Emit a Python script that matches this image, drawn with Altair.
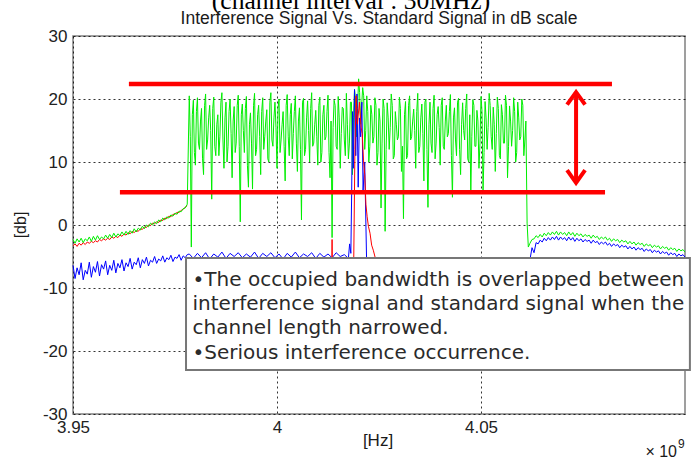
import altair as alt
import numpy as np
import pandas as pd

# ---------------- data (x in GHz, y in dB) ----------------
# left part, 3.9500 .. 3.9780 GHz, step 0.5 MHz
green_left = [-2.3, -2.9, -2.2, -2.7, -2.1, -2.8, -2.2, -2.5, -1.9, -2.6,
              -1.8, -2.4, -1.7, -2.3, -1.9, -2.2, -1.6, -2.1, -1.5, -2.0,
              -1.3, -1.9, -1.4, -1.7, -1.1, -1.6, -1.0, -1.5, -0.9, -1.3,
              -0.6, -1.1, -0.5, -0.8, -0.2, -0.6, 0.0, -0.3, 0.3, 0.0,
              0.5, 0.2, 0.8, 0.5, 1.1, 0.8, 1.3, 1.1, 1.6, 1.4,
              1.9, 1.7, 2.2, 2.1, 2.6, 2.7, 3.3]
red_left = [-3.3, -3.0, -3.4, -2.9, -3.2, -2.8, -3.1, -2.7, -2.9, -2.6,
            -2.8, -2.5, -2.7, -2.3, -2.5, -2.2, -2.4, -2.1, -2.3, -1.9,
            -2.1, -1.8, -2.0, -1.6, -1.8, -1.4, -1.6, -1.2, -1.4, -1.0,
            -1.2, -0.9, -1.0, -0.6, -0.7, -0.3, -0.4, 0.0, -0.1, 0.3,
            0.2, 0.5, 0.4, 0.8, 0.7, 1.1, 1.0, 1.4, 1.3, 1.7,
            1.7, 2.0, 2.0, 2.3, 2.5, 2.8, 3.1]
blue_left = [-6.4, -8.5, -6.8, -7.9, -6.0, -8.7, -7.2, -7.8, -5.9, -8.3,
             -6.6, -7.5, -5.8, -8.1, -6.3, -7.0, -5.7, -7.9, -6.4, -7.2,
             -5.6, -7.6, -6.1, -6.8, -5.5, -7.3, -6.0, -6.6, -5.3, -7.0,
             -5.9, -6.3, -5.2, -6.8, -5.5, -6.1, -5.1, -6.5, -5.6, -5.9,
             -5.0, -6.1, -5.4, -5.7, -4.9, -5.9, -5.2, -5.5, -4.8, -5.8,
             -5.1, -5.3, -4.7, -5.6, -4.9, -5.2, -4.7]

# occupied band of the standard signal, 3.9785 .. 4.0610 GHz, step 0.5 MHz
green_band = [20.5, -3.5, 19.8, 9.5, 20.2, 12.0, 18.5, 8.0, 20.8, 13.5,
              19.0, 4.1, 20.3, 11.0, 17.5, 14.0, 21.0, 9.0, 19.5, 12.5,
              20.0, 7.5, 18.8, 13.0, 20.6, 0.5, 19.2, 11.5, 20.4, 6.0,
              17.8, 5.7, 20.9, 12.0, 19.0, 8.0, 20.2, 14.0, 18.3, 10.0,
              21.0, 12.5, 19.5, 9.0, 20.0, 13.5, 18.0, 7.0, 20.7, 11.0,
              19.3, 14.5, 20.5, 8.5, 18.6, 0.8, 20.1, 12.0, 19.7, 10.0,
              21.0, 13.0, 18.2, 9.5, 20.3, 11.5, 19.0, 14.0, 20.6, 7.5,
              -2.0, 19.8, 12.5, 20.4, 9.0, 18.7, 13.5, 20.9, 10.5, 19.5,
              8.0, 21.5, 14.0, 23.2, 16.0, 21.8, 12.0, 20.5, 10.0, 19.0,
              13.0, 20.2, 9.5, 18.5, 2.7, 20.0, -1.0, 19.4, 12.0, 20.8,
              10.5, 18.0, 13.5, 20.3, 8.5, 1.0, 19.6, 11.0, 20.5, 14.0,
              18.4, 9.0, 20.9, 12.5, 19.2, 7.0, 20.0, 2.8, 19.5, 11.5,
              20.6, 13.0, 18.8, 9.5, 20.2, 12.0, 19.0, 14.5, 20.7, 4.4,
              18.6, 11.0, 20.1, 8.0, 19.4, 13.5, 20.8, 10.0, 5.0, 19.9,
              12.5, 18.2, 9.0, 20.4, 5.3, 19.6, 12.0, 20.9, 14.0, 18.7,
              8.5, 20.3, 11.0, 19.1, 13.0, 20.6, 7.5, 18.9, 12.5, 20.2,
              10.0, 19.5, 13.5, 20.0, 11.0, 16.5]
# in-between samples of the band, 3.97875 .. 4.06075 GHz, step 0.5 MHz
green_band_b = [14.0, 17.5, 11.5, 18.0, 13.0, 16.5, 10.5, 19.0, 12.0, 17.0,
                15.0, 18.5, 12.5, 16.0, 11.0, 19.5, 13.5, 17.0, 10.0, 18.0,
                14.5, 16.5, 11.5, 19.0, 12.5, 17.5, 15.0, 18.5, 9.5, 16.0,
                13.0, 19.0, 11.0, 17.5, 14.0, 18.0, 12.0, 16.5, 10.5, 19.5,
                13.5, 17.0, 15.5, 18.5, 11.5, 16.0, 12.5, 19.0, 14.0, 17.5,
                10.5, 18.0, 13.0, 16.5, 12.0, 19.5, 11.0, 17.0, 15.0, 18.5,
                12.5, 16.0, 14.0, 19.0, 10.0, 17.5, 13.5, 18.0, 11.5, 16.5,
                15.5, 19.0, 12.0, 17.0, 14.5, 18.5, 11.0, 16.0, 13.0, 19.5,
                17.0, 20.0, 18.5, 21.0, 19.0, 20.5, 15.0, 18.0, 12.5, 17.5,
                14.0, 19.0, 11.5, 16.5, 13.0, 18.5, 12.0, 17.0, 15.5, 19.0,
                11.0, 16.0, 14.0, 18.5, 12.5, 17.5, 10.5, 19.0, 13.5, 16.5,
                15.0, 18.0, 11.5, 17.0, 14.5, 19.5, 12.0, 16.0, 13.0, 18.5,
                10.5, 17.5, 15.5, 19.0, 12.5, 16.5, 14.0, 18.0, 11.0, 17.0,
                13.5, 19.5, 12.0, 16.0, 15.0, 18.5, 10.5, 17.5, 14.0, 19.0,
                12.5, 16.5, 13.0, 18.0, 11.5, 17.0, 15.5, 19.0, 12.0, 16.0,
                14.5, 18.5, 10.5, 17.5, 13.0, 19.0, 12.5, 16.5, 15.0, 18.0,
                11.5, 17.0, 14.0, 19.0, 13.5]
green_drop_f = [4.0613, 4.0616]
green_drop = [0.3, -3.5]

# 3.9785 .. 4.0175 GHz, step 1 MHz
blue_mid = [-4.6, -5.3, -4.5, -5.2, -4.4, -5.4, -4.6, -5.1, -4.3, -5.3,
            -4.5, -5.0, -4.4, -5.2, -4.6, -5.1, -4.3, -5.3, -4.5, -5.0,
            -4.4, -5.2, -4.6, -5.4, -4.5, -5.1, -4.3, -5.2, -4.6, -5.0,
            -4.4, -5.3, -4.5, -5.1, -4.6, -5.2, -4.4, -5.0, -4.7, -5.3]

# interference spike
blue_spike_f = [4.0175, 4.0178, 4.0181, 4.0183, 4.0185, 4.0187, 4.0190, 4.0193,
                4.0196, 4.0199, 4.0202, 4.0205, 4.0208, 4.0211, 4.0215, 4.0220]
blue_spike = [-5.3, -3.0, -4.5, 5.0, 18.0, 9.0, 21.5, 11.0,
              20.8, 6.0, 17.0, 14.0, 19.5, 5.5, 10.0, -7.0]
blue_hidden_f = [4.024, 4.028, 4.032, 4.036, 4.040, 4.044, 4.048, 4.052, 4.056, 4.060]
blue_hidden = [-7.5, -8.0, -7.8, -8.2, -7.6, -8.0, -7.7, -8.1, -7.5, -7.9]
red_spike_f = [4.0188, 4.0191, 4.0194, 4.0197, 4.0202, 4.0206, 4.0209, 4.0212, 4.0215,
               4.0218, 4.0221, 4.0224, 4.0228, 4.0232, 4.0236, 4.0242, 4.0250]
red_spike = [-6.0, 12.0, 20.5, 16.0, 19.5, 15.5, 14.5, 10.3, 8.0,
             3.2, 1.3, -0.2, -1.3, -3.2, -4.0, -5.5, -9.0]
red_dip_f = [4.0134, 4.0135, 4.0136]
red_dip = [-8.0, -2.3, -8.0]

# right part, 4.0620 .. 4.1000 GHz, step 0.5 MHz
green_right = [-2.9, -2.3, -2.2, -1.7, -2.0, -1.5, -1.9, -1.3, -1.7, -1.2,
               -1.6, -1.1, -1.5, -1.0, -1.6, -1.1, -1.5, -1.2, -1.7, -1.1,
               -1.6, -1.2, -1.8, -1.3, -1.7, -1.4, -1.9, -1.5, -1.8, -1.6,
               -2.1, -1.6, -2.0, -1.8, -2.3, -1.9, -2.2, -1.9, -2.4, -2.1,
               -2.6, -2.2, -2.5, -2.3, -2.8, -2.4, -2.7, -2.5, -3.0, -2.6,
               -3.0, -2.7, -3.2, -2.8, -3.1, -2.9, -3.4, -3.0, -3.3, -3.1,
               -3.6, -3.2, -3.5, -3.3, -3.8, -3.4, -3.7, -3.5, -4.0, -3.6,
               -3.9, -3.7, -4.2, -3.8, -4.1, -3.9, -4.3]
blue_right = [-5.5, -3.6, -4.4, -2.8, -3.0, -2.4, -2.7, -2.1, -2.5, -2.0,
              -2.4, -1.9, -2.3, -1.8, -2.4, -1.9, -2.3, -2.0, -2.5, -1.9,
              -2.4, -2.0, -2.6, -2.1, -2.5, -2.2, -2.7, -2.3, -2.6, -2.4,
              -2.9, -2.4, -2.8, -2.6, -3.1, -2.7, -3.0, -2.7, -3.2, -2.9,
              -3.4, -3.0, -3.3, -3.1, -3.6, -3.2, -3.5, -3.3, -3.8, -3.4,
              -3.8, -3.5, -4.0, -3.6, -3.9, -3.7, -4.2, -3.8, -4.1, -3.9,
              -4.4, -4.0, -4.3, -4.1, -4.6, -4.2, -4.5, -4.3, -4.8, -4.4,
              -4.7, -4.5, -5.0, -4.6, -4.9, -4.7, -5.1]

# annotation: red level lines and double arrow
level_db = [22.4, 5.2]
level_from = [3.9637, 3.9615]
level_to = [4.0821, 4.0804]
arrow_f = [4.0733]
arrow_top = [21.1]
arrow_bottom = [6.7]

note_lines = ["\u2022The occupied bandwidth is overlapped between",
              "interference signal and standard signal when the",
              "channel length narrowed.",
              "\u2022Serious interference occurrence."]

# ---------------- frequency grids ----------------
f_left = np.round(3.95 + 0.0005 * np.arange(len(green_left)), 5)
f_band = np.round(3.9785 + 0.0005 * np.arange(len(green_band)), 5)
f_band_b = np.round(3.97875 + 0.0005 * np.arange(len(green_band_b)), 5)
f_mid = np.round(3.9785 + 0.001 * np.arange(len(blue_mid)), 5)
f_right = np.round(4.062 + 0.0005 * np.arange(len(green_right)), 5)

green_df = pd.DataFrame({
    "f": list(f_left) + list(f_band) + list(f_band_b) + green_drop_f + list(f_right),
    "v": green_left + green_band + green_band_b + green_drop + green_right})
green_df = green_df.sort_values("f").reset_index(drop=True)
blue_under_df = pd.DataFrame({"f": list(f_left) + list(f_mid),
                              "v": blue_left + blue_mid})
blue_over_df = pd.DataFrame({"f": blue_spike_f + blue_hidden_f + list(f_right),
                             "v": blue_spike + blue_hidden + blue_right})
red_under_df = pd.DataFrame({"f": list(f_left) + red_dip_f,
                             "v": red_left + red_dip,
                             "seg": ["a"] * len(red_left) + ["b"] * len(red_dip)})
red_over_df = pd.DataFrame({"f": red_spike_f, "v": red_spike})
levels_df = pd.DataFrame({"f": level_from, "f2": level_to, "v": level_db})
arrow_df = pd.DataFrame({"f": arrow_f, "v": arrow_top, "v2": arrow_bottom})
box_df = pd.DataFrame({"f": [3.9777], "f2": [4.1012], "v": [-5.25], "v2": [-23.0]})
note_df = pd.DataFrame({"t": note_lines, "f": [3.9793] * 4,
                        "v": [-8.7, -12.55, -16.4, -20.25]})
one = pd.DataFrame({"k": [0]})

# ---------------- scales / axes ----------------
xs = alt.Scale(domain=[3.95, 4.10], nice=False, zero=False)
ys = alt.Scale(domain=[-30, 30], nice=False, zero=False)
xax = alt.Axis(values=[3.95, 4.0, 4.05], labelExpr="toString(datum.value)", title=None,
               grid=True, ticks=False, domain=False, labelFlush=False,
               labelPadding=5)
yax = alt.Axis(values=[-30, -20, -10, 0, 10, 20, 30], labelExpr="toString(datum.value)",
               title=None, grid=True, ticks=False, domain=False, labelPadding=6)


def X(field="f"):
    return alt.X(f"{field}:Q", scale=xs, axis=xax)


def Y(field="v"):
    return alt.Y(f"{field}:Q", scale=ys, axis=yax)


LW = 1.0
blue_under = alt.Chart(blue_under_df).mark_line(color="#0000ff", strokeWidth=LW).encode(x=X(), y=Y())
red_under = alt.Chart(red_under_df).mark_line(color="#ff0000", strokeWidth=LW).encode(
    x=X(), y=Y(), detail="seg:N")
green = alt.Chart(green_df).mark_line(color="#00ee00", strokeWidth=LW).encode(
    x=X(), y=Y(), order="f:Q")
blue_over = alt.Chart(blue_over_df).mark_line(color="#0000ff", strokeWidth=LW).encode(x=X(), y=Y())
red_over = alt.Chart(red_over_df).mark_line(color="#ff0000", strokeWidth=LW).encode(x=X(), y=Y())

levels = alt.Chart(levels_df).mark_rule(color="#ff0000", strokeWidth=4.5).encode(
    x=X(), x2="f2:Q", y=Y())
shaft = alt.Chart(arrow_df).mark_rule(color="#ff0000", strokeWidth=4).encode(
    x=X(), y=Y(), y2="v2:Q")
head_up = alt.Chart(arrow_df).mark_point(
    shape="M -1 1.4 L 0 0 L 1 1.4", size=324, filled=False, color="#ff0000",
    strokeWidth=4, opacity=1, strokeJoin="miter").encode(x=X(), y=Y())
head_down = alt.Chart(arrow_df).mark_point(
    shape="M -1 -1.4 L 0 0 L 1 -1.4", size=324, filled=False, color="#ff0000",
    strokeWidth=4, opacity=1, strokeJoin="miter").encode(x=X(), y=Y("v2"))

box = alt.Chart(box_df).mark_rect(fill="white", stroke="#777777", strokeWidth=2).encode(
    x=X(), x2="f2:Q", y=Y(), y2="v2:Q")
notes = alt.Chart(note_df).mark_text(
    align="left", baseline="middle", font="DejaVu Sans", fontSize=20, color="#2a2a2a").encode(
    x=X(), y=Y(), text="t:N")


def label(text, px, py, size, font="Liberation Sans", align="center", baseline="middle",
          angle=0, color="#1a1a1a"):
    return alt.Chart(one).mark_text(
        text=text, align=align, baseline=baseline, font=font, fontSize=size,
        angle=angle, color=color).encode(x=alt.value(px), y=alt.value(py))


cut_title = label("(channel interval : 30MHz)", 278, -27.5, 25.5, font="Liberation Serif",
                  baseline="alphabetic", color="#000000")
title = label("Interference Signal Vs. Standard Signal in dB scale", 306, -12, 17.5,
              baseline="alphabetic")
ytitle = label("[db]", -52, 189, 16, angle=270)
xtitle = label("[Hz]", 305, 405, 17)
exp_base = label("\u00d7 10", 604, 421, 16, align="right", baseline="alphabetic")
exp_pow = label("9", 605, 412, 12, align="left", baseline="alphabetic")

chart = alt.layer(
    blue_under, red_under, green, blue_over, red_over,
    levels, shaft, head_up, head_down, box, notes,
    cut_title, title, ytitle, xtitle, exp_base, exp_pow
).properties(
    width=612, height=378,
    padding={"left": 73, "top": 36, "right": 15, "bottom": 46},
    autosize=alt.AutoSizeParams(type="none"),
    background="white",
).configure_view(
    stroke="#808080", strokeWidth=1.5
).configure_axis(
    labelFont="Liberation Sans", labelFontSize=17, labelColor="#222222",
    gridColor="#000000", gridDash=[2, 3], gridOpacity=0.8, gridWidth=1
)

chart.save("out.html", embed_options={"renderer": "svg", "actions": False})
